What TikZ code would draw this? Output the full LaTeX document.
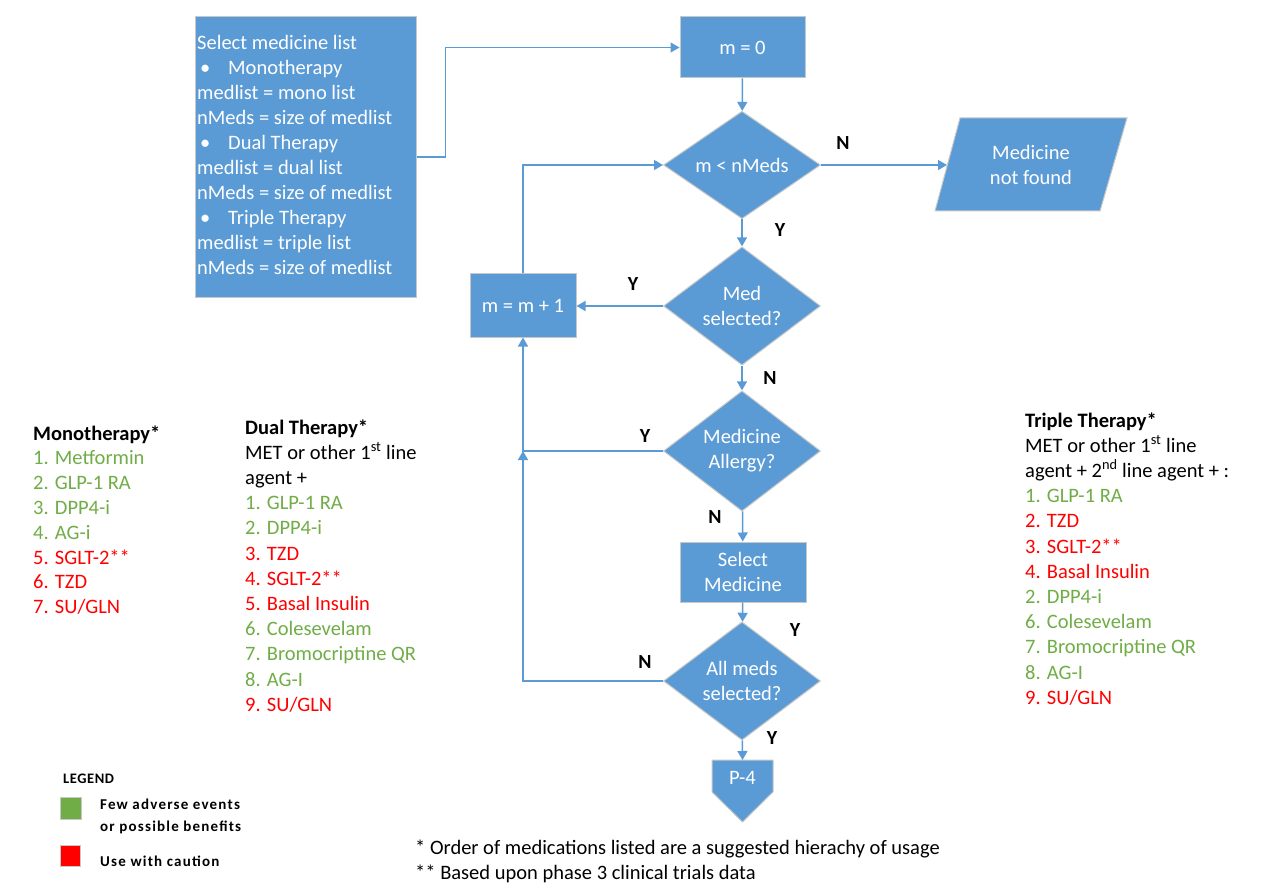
\documentclass[tikz,border=0pt]{standalone}
\usepackage{fontspec}
\setmainfont{Carlito}
\usetikzlibrary{arrows.meta,shapes.geometric}
\definecolor{fblue}{HTML}{5B9BD5}
\definecolor{fgreen}{HTML}{70AD47}
\definecolor{fred}{HTML}{FF0000}
\definecolor{edgegray}{HTML}{C8C8C8}
\newcommand{\mainsize}{\fontsize{20.5}{25}\selectfont}
\begin{document}
\begin{tikzpicture}[x=1pt,y=-1pt,
  shapebox/.style={rectangle, fill=fblue, draw=edgegray, line width=1pt, text=white,
    font=\mainsize, align=center, inner sep=0pt},
  decide/.style={diamond, fill=fblue, draw=edgegray, line width=1pt, text=white,
    font=\mainsize, align=center, inner sep=0pt,
    minimum width=157pt, minimum height=103pt},
  shapefill/.style={fill=fblue, draw=edgegray, line width=1pt},
  shapetext/.style={text=white, font=\mainsize, align=center, inner sep=0pt},
  flow/.style={draw=fblue, line width=1.5pt, -{Triangle[width=10pt,length=9pt]}},
  yn/.style={font=\fontsize{20}{20}\selectfont\bfseries, text=black, inner sep=0pt},
  boxline/.style={anchor=base west, inner sep=0pt, text=white, font=\mainsize},
  listline/.style={anchor=base west, inner sep=0pt, font=\mainsize},
  headline/.style={anchor=base west, inner sep=0pt, font=\mainsize\bfseries},
  legtext/.style={anchor=base west, inner sep=0pt,
    font=\fontsize{15}{18}\selectfont\bfseries\addfontfeatures{LetterSpace=8}},
  legsq/.style={draw=edgegray, line width=0.8pt}
]
\useasboundingbox (0,0) rectangle (1263,893);
\fill[white] (0,0) rectangle (1263,893);

% --- select medicine list box
\node[shapebox, minimum width=221pt, minimum height=280pt] (sel) at (305.5,157) {};
\foreach \t [count=\i] in {Select medicine list,
  \makebox[31pt][l]{\hspace{3pt}•}Monotherapy,
  medlist = mono list,
  nMeds = size of medlist,
  \makebox[31pt][l]{\hspace{3pt}•}Dual Therapy,
  medlist = dual list,
  nMeds = size of medlist,
  \makebox[31pt][l]{\hspace{3pt}•}Triple Therapy,
  medlist = triple list,
  nMeds = size of medlist}
  \node[boxline] (s\i) at (197,{50+25*(\i-1)}) {\t};

% --- flow shapes
\node[shapebox, minimum width=125pt, minimum height=61pt] (m0) at (742.5,47.5) {m = 0};
\node[decide] (d1) at (742,165) {m < nMeds};
\node[decide] (d2) at (742,306) {Med\\selected?};
\node[shapebox, minimum width=106pt, minimum height=63pt] (inc) at (523,305.5) {m = m + 1};
\node[decide] (d3) at (742,451) {Medicine\\Allergy?};
\node[shapebox, minimum width=126pt, minimum height=60pt] (sm) at (743,572) {Select\\Medicine};
\node[decide] (d4) at (742,681) {All meds\\selected?};

% parallelogram
\path[shapefill] (960,118) -- (1127,118) -- (1100,211) -- (935,211) -- cycle;
\node[shapetext] (nf) at (1031,165) {Medicine\\not found};
\coordinate (nfl) at (947,165);

% off-page connector
\path[shapefill] (712,760) -- (773,760) -- (773,792) -- (742.5,822) -- (712,792) -- cycle;
\node[shapetext] (p4) at (742.5,778) {P-4};
\coordinate (p4top) at (742.5,760);

% --- connectors
\draw[flow] (sel.east) -- ++(29,0) |- (m0.west);
\draw[flow] (m0) -- (d1);
\draw[flow] (d1.east) -- (nfl);
\draw[flow] (d1) -- (d2);
\draw[flow] (d2.west) -- (d2.west -| inc.east);
\draw[flow] (inc.north) |- (d1.west);
\draw[flow] (d2) -- (d3);
\draw[flow] (d3.west) -| (inc.south);
\coordinate (jn) at (inc.south |- d3.west);
\draw[flow] (d4.west) -| (jn);
\draw[flow] (d3) -- (sm);
\draw[flow] (sm) -- (d4);
\draw[flow] (d4) -- (p4top);

% --- Y/N labels
\node[yn] (l1) at (843,143) {N};
\node[yn] (l2) at (780,230) {Y};
\node[yn] (l3) at (633,284) {Y};
\node[yn] (l4) at (770,378) {N};
\node[yn] (l5) at (645,436) {Y};
\node[yn] (l6) at (715,517) {N};
\node[yn] (l7) at (795,630) {Y};
\node[yn] (l8) at (645,662) {N};
\node[yn] (l9) at (772,738) {Y};

% --- Monotherapy list
\node[headline] (mh) at (33,440) {Monotherapy*};
\foreach \c/\t [count=\i] in {fgreen/{1. Metformin}, fgreen/{2. GLP-1 RA}, fgreen/{3. DPP4-i},
  fgreen/{4. AG-i}, fred/{5. SGLT-2**}, fred/{6. TZD}, fred/{7. SU/GLN}}
  \node[listline, text=\c] (mo\i) at (33,{440+24.8*\i}) {\t};

% --- Dual list
\node[headline] (dh) at (245,434) {Dual Therapy*};
\node[listline] (dh2) at (245,459.2) {MET or other 1\textsuperscript{st} line};
\node[listline] (dh3) at (245,484.4) {agent +};
\foreach \c/\t [count=\i] in {fgreen/{1. GLP-1 RA}, fgreen/{2. DPP4-i}, fred/{3. TZD},
  fred/{4. SGLT-2**}, fred/{5. Basal Insulin}, fgreen/{6. Colesevelam},
  fgreen/{7. Bromocriptine QR}, fgreen/{8. AG-I}, fred/{9. SU/GLN}}
  \node[listline, text=\c] (du\i) at (245,{484.4+25.2*\i}) {\t};

% --- Triple list
\node[headline] (th) at (1025,427) {Triple Therapy*};
\node[listline] (th2) at (1025,452.2) {MET or other 1\textsuperscript{st} line};
\node[listline] (th3) at (1025,477.4) {agent + 2\textsuperscript{nd} line agent + :};
\foreach \c/\t [count=\i] in {fgreen/{1. GLP-1 RA}, fred/{2. TZD}, fred/{3. SGLT-2**},
  fred/{4. Basal Insulin}, fgreen/{2. DPP4-i}, fgreen/{6. Colesevelam},
  fgreen/{7. Bromocriptine QR}, fgreen/{8. AG-I}, fred/{9. SU/GLN}}
  \node[listline, text=\c] (tr\i) at (1025,{477.4+25.2*\i}) {\t};

% --- legend
\node[anchor=base west, inner sep=0pt,
  font=\fontsize{14.5}{16}\selectfont\bfseries\addfontfeatures{LetterSpace=4}] (leg) at (63,783) {LEGEND};
\fill[fgreen, legsq] (60,797) rectangle (81,819);
\fill[fred, legsq] (60,845) rectangle (80,866);
\node[legtext] (lg1) at (100,809) {Few adverse events};
\node[legtext] (lg2) at (100,831) {or possible benefits};
\node[legtext] (lg3) at (100,866) {Use with caution};

% --- footnotes
\node[listline] (fn1) at (415,854) {* Order of medications listed are a suggested hierachy of usage};
\node[listline] (fn2) at (415,879) {** Based upon phase 3 clinical trials data};
\end{tikzpicture}
\end{document}
